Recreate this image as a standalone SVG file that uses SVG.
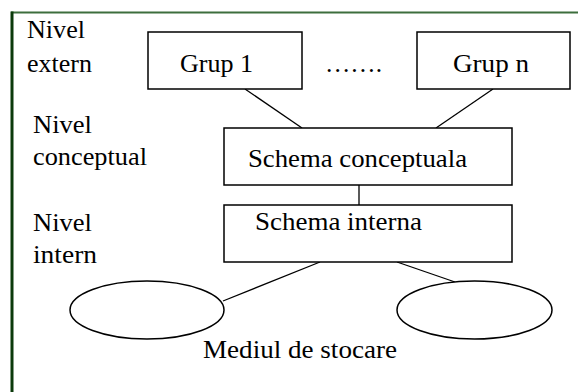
<svg xmlns="http://www.w3.org/2000/svg" width="579" height="392" viewBox="0 0 579 392">
<style>
.t{font-size:25px;fill:#000}
.b{fill:#fff;stroke:#000;stroke-width:1.5}
.c{stroke:#000;stroke-width:1.3;fill:none}
</style>
<rect width="579" height="392" fill="#fff"/>
<g id="frame">
<line x1="11" y1="12.5" x2="578" y2="12.5" stroke="#3d6e3d" stroke-width="2.2"/>
<line x1="12" y1="11.5" x2="12" y2="392" stroke="#0b3a0b" stroke-width="3"/>
</g>
<g font-family="'Liberation Serif', 'Times New Roman', serif">
<g id="labels">
<text class="t" x="27" y="38" textLength="58" lengthAdjust="spacingAndGlyphs">Nivel</text>
<text class="t" x="27" y="72" textLength="65" lengthAdjust="spacingAndGlyphs">extern</text>
<text class="t" x="33" y="133" textLength="59" lengthAdjust="spacingAndGlyphs">Nivel</text>
<text class="t" x="33" y="165" textLength="114" lengthAdjust="spacingAndGlyphs">conceptual</text>
<text class="t" x="33" y="231" textLength="59" lengthAdjust="spacingAndGlyphs">Nivel</text>
<text class="t" x="33" y="263" textLength="64" lengthAdjust="spacingAndGlyphs">intern</text>
<text class="t" x="325" y="72" textLength="57" lengthAdjust="spacingAndGlyphs">…….</text>
<text class="t" x="203" y="358" textLength="194" lengthAdjust="spacingAndGlyphs">Mediul de stocare</text>
</g>
<g id="connectors">
<line class="c" x1="245" y1="89" x2="302" y2="128"/>
<line class="c" x1="493" y1="89" x2="436" y2="128"/>
<line class="c" x1="359" y1="185" x2="359" y2="205"/>
<line class="c" x1="320" y1="262" x2="223" y2="301"/>
<line class="c" x1="397" y1="262" x2="455" y2="282"/>
</g>
<g id="grup1">
<rect class="b" x="148" y="32" width="154" height="57"/>
<text class="t" x="180" y="72" textLength="73" lengthAdjust="spacingAndGlyphs">Grup 1</text>
</g>
<g id="grupn">
<rect class="b" x="417" y="32" width="153" height="57"/>
<text class="t" x="453" y="72" textLength="76" lengthAdjust="spacingAndGlyphs">Grup n</text>
</g>
<g id="schema-conceptuala">
<rect class="b" x="224" y="128" width="288" height="57"/>
<text class="t" x="248" y="167" textLength="219" lengthAdjust="spacingAndGlyphs">Schema conceptuala</text>
</g>
<g id="schema-interna">
<rect class="b" x="224" y="205" width="288" height="57"/>
<text class="t" x="255" y="230" textLength="167" lengthAdjust="spacingAndGlyphs">Schema interna</text>
</g>
<g id="mediu1">
<ellipse class="b" cx="147" cy="310" rx="77" ry="29"/>
</g>
<g id="mediu2">
<ellipse class="b" cx="474.5" cy="310" rx="77.5" ry="29"/>
</g>
</g>
</svg>
